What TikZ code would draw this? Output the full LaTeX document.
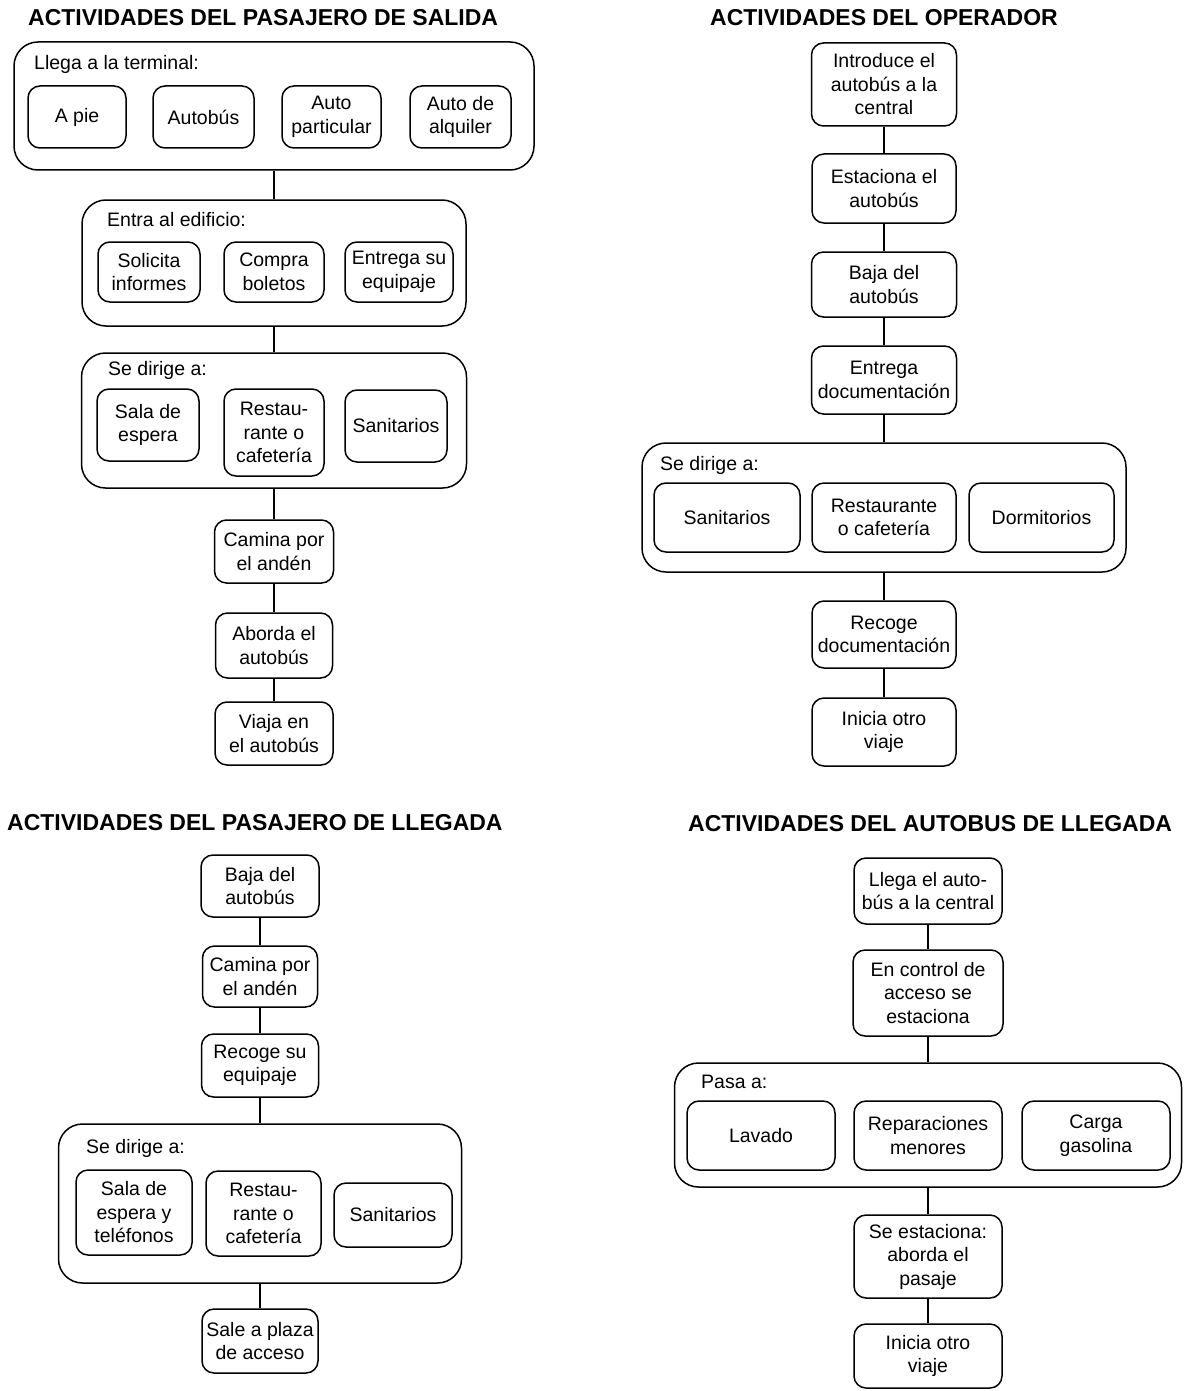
\documentclass[tikz,border=0pt]{standalone}
\usepackage{fontspec}
\setmainfont{Liberation Sans}
\newcommand\bodyfnt{\fontsize{19.5}{23.5}\selectfont}
\newcommand\titlefnt{\fontsize{23}{27}\selectfont\bfseries}
\tikzset{
  box/.style={draw, rounded corners=12pt, line width=1.5pt, align=center, inner sep=0pt, font=\bodyfnt},
  big/.style={draw, rounded corners=24pt, line width=1.5pt, inner sep=0pt},
  lbl/.style={anchor=west, inner sep=0pt, font=\bodyfnt},
  ttl/.style={anchor=west, inner sep=0pt, font=\titlefnt},
  conn/.style={line width=1.5pt}
}
\begin{document}
\begin{tikzpicture}[x=1pt,y=-1pt]
\fill[white] (0,0) rectangle (1186,1391);
\useasboundingbox (0,0) rectangle (1186,1391);

% ---------- Panel 1: pasajero de salida ----------
\node[ttl] (t1) at (28,18) {ACTIVIDADES DEL PASAJERO DE SALIDA};
\node[big, minimum width=520pt, minimum height=128pt] (A) at (274,106) {};
\node[lbl] (lA) at (34,64) {Llega a la terminal:};
\node[box, minimum width=98pt, minimum height=62pt] (a1) at (77,117) {A pie};
\node[box, minimum width=101pt, minimum height=62pt] (a2) at (203.5,117) {Autobús};
\node[box, minimum width=99pt, minimum height=62pt] (a3) at (331.5,117) {Auto\\particular};
\node[box, minimum width=101pt, minimum height=62pt] (a4) at (460.5,117) {Auto de\\alquiler};

\node[big, minimum width=384pt, minimum height=126pt] (B) at (274,263) {};
\node[lbl] (lB) at (107,220) {Entra al edificio:};
\node[box, minimum width=102pt, minimum height=60pt] (b1) at (149,272) {Solicita\\informes};
\node[box, minimum width=100pt, minimum height=60pt] (b2) at (274,272) {Compra\\boletos};
\node[box, minimum width=108pt, minimum height=60pt] (b3) at (399,272) {Entrega su\\equipaje};

\node[big, minimum width=385pt, minimum height=135pt] (C) at (274,420.5) {};
\node[lbl] (lC) at (108,370) {Se dirige a:};
\node[box, minimum width=102pt, minimum height=72pt] (c1) at (148,425) {Sala de\\espera};
\node[box, minimum width=100pt, minimum height=87pt] (c2) at (274,432.5) {Restau-\\rante o\\cafetería};
\node[box, minimum width=102pt, minimum height=72pt] (c3) at (396,426) {Sanitarios};

\node[box, minimum width=119pt, minimum height=63pt] (d1) at (274,551.5) {Camina por\\el andén};
\node[box, minimum width=117pt, minimum height=65pt] (d2) at (274,645.5) {Aborda el\\autobús};
\node[box, minimum width=118pt, minimum height=63pt] (d3) at (274,733.5) {Viaja en\\el autobús};

\draw[conn] (A) -- (B);
\draw[conn] (B) -- (C);
\draw[conn] (C) -- (d1);
\draw[conn] (d1) -- (d2);
\draw[conn] (d2) -- (d3);

% ---------- Panel 2: operador ----------
\node[ttl] (t2) at (710,18) {ACTIVIDADES DEL OPERADOR};
\node[box, minimum width=145pt, minimum height=83pt] (o1) at (884,84.5) {Introduce el\\autobús a la\\central};
\node[box, minimum width=144pt, minimum height=69pt] (o2) at (884,188.5) {Estaciona el\\autobús};
\node[box, minimum width=145pt, minimum height=65pt] (o3) at (884,284.5) {Baja del\\autobús};
\node[box, minimum width=145pt, minimum height=68pt] (o4) at (884,380) {Entrega\\documentación};
\node[big, minimum width=484pt, minimum height=129pt] (D) at (884,507.5) {};
\node[lbl] (lD) at (660,465) {Se dirige a:};
\node[box, minimum width=146pt, minimum height=69pt] (e1) at (727,517.5) {Sanitarios};
\node[box, minimum width=144pt, minimum height=69pt] (e2) at (884,517.5) {Restaurante\\o cafetería};
\node[box, minimum width=145pt, minimum height=69pt] (e3) at (1041.5,517.5) {Dormitorios};
\node[box, minimum width=144pt, minimum height=67pt] (o5) at (884,634.5) {Recoge\\documentación};
\node[box, minimum width=144pt, minimum height=68pt] (o6) at (884,732) {Inicia otro\\viaje};

\draw[conn] (o1) -- (o2);
\draw[conn] (o2) -- (o3);
\draw[conn] (o3) -- (o4);
\draw[conn] (o4) -- (D);
\draw[conn] (D) -- (o5);
\draw[conn] (o5) -- (o6);

% ---------- Panel 3: pasajero de llegada ----------
\node[ttl] (t3) at (7,823) {ACTIVIDADES DEL PASAJERO DE LLEGADA};
\node[box, minimum width=118pt, minimum height=62pt] (p1) at (260,886) {Baja del\\autobús};
\node[box, minimum width=115pt, minimum height=61pt] (p2) at (260,976.5) {Camina por\\el andén};
\node[box, minimum width=117pt, minimum height=63pt] (p3) at (260,1065.5) {Recoge su\\equipaje};
\node[big, minimum width=403pt, minimum height=159pt] (E) at (260,1203.5) {};
\node[lbl] (lE) at (86,1148) {Se dirige a:};
\node[box, minimum width=116pt, minimum height=85pt] (q1) at (134,1212.5) {Sala de\\espera y\\teléfonos};
\node[box, minimum width=115pt, minimum height=85pt] (q2) at (263.5,1213.5) {Restau-\\rante o\\cafetería};
\node[box, minimum width=118pt, minimum height=64pt] (q3) at (393,1215) {Sanitarios};
\node[box, minimum width=116pt, minimum height=64pt] (p4) at (260,1341) {Sale a plaza\\de acceso};

\draw[conn] (p1) -- (p2);
\draw[conn] (p2) -- (p3);
\draw[conn] (p3) -- (E);
\draw[conn] (E) -- (p4);

% ---------- Panel 4: autobus de llegada ----------
\node[ttl] (t4) at (688,824) {ACTIVIDADES DEL AUTOBUS DE LLEGADA};
\node[box, minimum width=148pt, minimum height=66pt] (u1) at (928,891) {Llega el auto-\\bús a la central};
\node[box, minimum width=150pt, minimum height=86pt] (u2) at (928,993) {En control de\\acceso se\\estaciona};
\node[big, minimum width=507pt, minimum height=124pt] (F) at (928,1125) {};
\node[lbl] (lF) at (701,1082) {Pasa a:};
\node[box, minimum width=148pt, minimum height=69pt] (v1) at (761,1135.5) {Lavado};
\node[box, minimum width=148pt, minimum height=69pt] (v2) at (928,1135.5) {Reparaciones\\menores};
\node[box, minimum width=148pt, minimum height=69pt] (v3) at (1096,1135.5) {Carga\\gasolina};
\node[box, minimum width=148pt, minimum height=83pt] (u3) at (928,1256.5) {Se estaciona:\\aborda el\\pasaje};
\node[box, minimum width=148pt, minimum height=64pt] (u4) at (928,1356) {Inicia otro\\viaje};

\draw[conn] (u1) -- (u2);
\draw[conn] (u2) -- (F);
\draw[conn] (F) -- (u3);
\draw[conn] (u3) -- (u4);
\end{tikzpicture}
\end{document}
